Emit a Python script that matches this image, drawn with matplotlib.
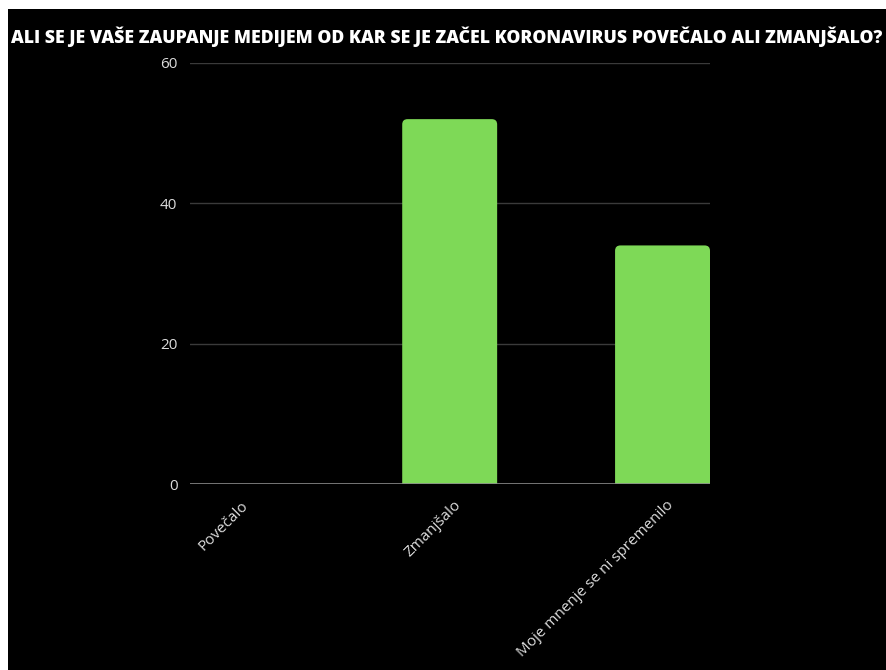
import matplotlib
matplotlib.use("Agg")
import matplotlib.pyplot as plt
from matplotlib.patches import FancyBboxPatch, Rectangle
from matplotlib.transforms import ScaledTranslation


# Survey answers and counts

categories = ["Povečalo", "Zmanjšalo", "Moje mnenje se ni spremenilo"]
counts = [0, 52, 34]
y_ticks = [0, 20, 40, 60]
title = "ALI SE JE VAŠE ZAUPANJE MEDIJEM OD KAR SE JE ZAČEL KORONAVIRUS POVEČALO ALI ZMANJŠALO?"

bar_color = "#7ed957"
text_color = "#dcdcdc"
bar_width = 0.446


# Figure on a black background

plt.rcParams["font.family"] = ["Open Sans", "DejaVu Sans"]

fig = plt.figure(figsize = (8.87, 6.7), dpi = 100, facecolor = "black")
ax = fig.add_axes([190 / 887, 186 / 670, 520 / 887, 421 / 670])
ax.set_facecolor("black")

ax.set_xlim(-0.22, 2.223)
ax.set_ylim(0, 60)


# Bars with rounded top corners (bottom starts below 0 so it gets clipped)

x_px = 520 / (ax.get_xlim()[1] - ax.get_xlim()[0])
y_px = 421 / 60
for i, value in enumerate(counts):
    if value <= 0:
        continue
    patch = FancyBboxPatch((i - bar_width / 2, -2), bar_width, value + 2,
                           boxstyle = "round,pad=0,rounding_size=0.025",
                           mutation_aspect = x_px / y_px,
                           facecolor = bar_color, edgecolor = "none", zorder = 3)
    ax.add_patch(patch)


# Grid, baseline and ticks

for t in y_ticks[1:]:
    ax.axhline(t, color = "#3a3a3a", linewidth = 1, zorder = 1)
ax.axhline(0, color = "#8a8a8a", linewidth = 1.2, zorder = 4)

for side in ["top", "right", "bottom", "left"]:
    ax.spines[side].set_visible(False)

ax.set_yticks(y_ticks)
ax.set_yticklabels([str(t) for t in y_ticks])
ax.tick_params(axis = "y", length = 0, pad = 9, colors = text_color, labelsize = 11)

ax.set_xticks(range(len(categories)))
ax.set_xticklabels(categories, rotation = 45, ha = "right", rotation_mode = "anchor")
ax.tick_params(axis = "x", length = 0, pad = 10, colors = text_color, labelsize = 11)
for label in ax.get_xticklabels():
    label.set_transform(label.get_transform() + ScaledTranslation(4 / 100, 0, fig.dpi_scale_trans))


# Title

fig.text(447 / 887, 1 - 37 / 670, title, color = "white", fontsize = 12.7,
         fontweight = "heavy", ha = "center", va = "center")


# White frame strips along the top and left edges

fig.add_artist(Rectangle((0, 1 - 9 / 670), 1, 9 / 670, transform = fig.transFigure,
                         facecolor = "white", edgecolor = "none"))
fig.add_artist(Rectangle((0, 0), 8 / 887, 1, transform = fig.transFigure,
                         facecolor = "white", edgecolor = "none"))

fig.savefig("out.png", dpi = 100, facecolor = "black")
